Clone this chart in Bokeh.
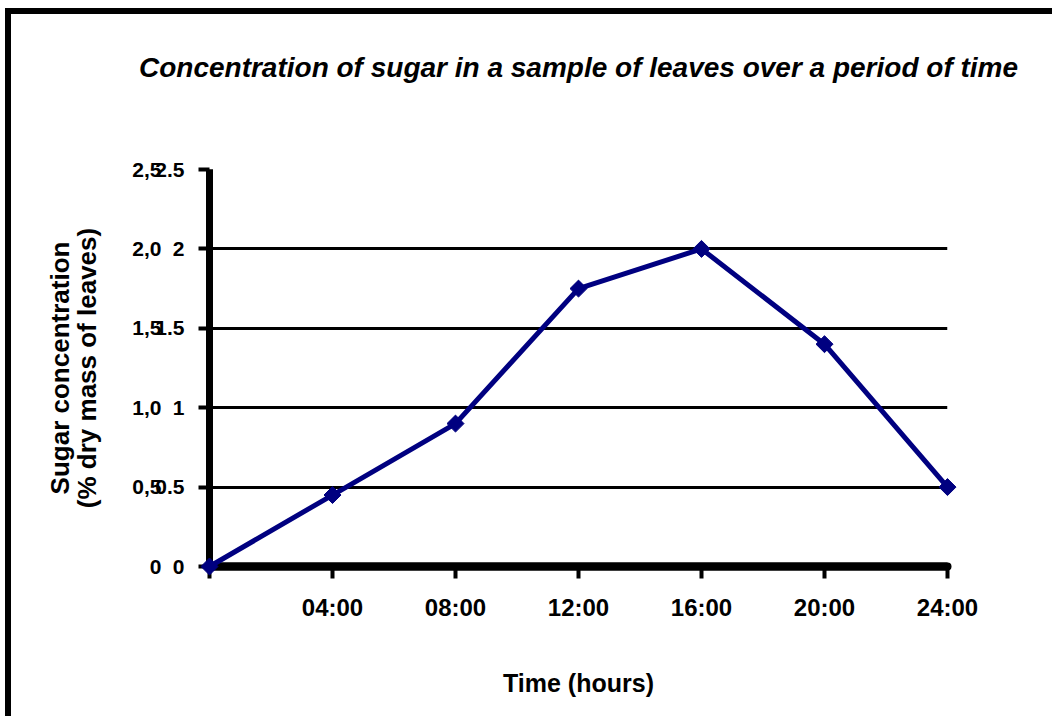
import numpy as np
from bokeh.plotting import figure
from bokeh.models import Range1d, FixedTicker, ColumnDataSource, LinearAxis
from bokeh.embed import file_html
from bokeh.resources import INLINE

# ---- data ----
hours = [0, 4, 8, 12, 16, 20, 24]
sugar = [0.0, 0.45, 0.9, 1.75, 2.0, 1.4, 0.5]
x_tick_labels = ["", "04:00", "08:00", "12:00", "16:00", "20:00", "24:00"]
y_ticks = [0.0, 0.5, 1.0, 1.5, 2.0, 2.5]
y_labels_dot = ["0", "0.5", "1", "1.5", "2", "2.5"]
y_labels_comma = ["0", "0,5", "1,0", "1,5", "2,0", "2,5"]
grid_values = [0.5, 1.0, 1.5, 2.0]

title_text = "Concentration of sugar in a sample of leaves over a period of time"
x_title = "Time (hours)"
y_title = "Sugar concentration\n(% dry mass of leaves)"

FONT = "Liberation Sans"
NAVY = "#000080"

p = figure(width=1047, height=708, output_backend="svg", toolbar_location=None,
           x_range=Range1d(hours[0], hours[-1]), y_range=Range1d(y_ticks[0], y_ticks[-1]),
           min_border_left=198, min_border_right=111, min_border_top=155,
           min_border_bottom=156,
           styles={"margin-top": "8px", "margin-left": "5px",
                   "border-top": "6px solid black", "border-left": "6px solid black"})
p.outline_line_color = None
p.background_fill_color = "white"
p.border_fill_color = "white"

xa = p.below[0]
ya = p.left[0]

# title
p.title.text = title_text
p.title.align = "center"
p.title.standoff = 10
p.title.text_font = FONT
p.title.text_font_size = "28px"
p.title.text_font_style = "bold italic"
p.title.text_color = "black"

# grid
p.xgrid.visible = False
p.ygrid.ticker = FixedTicker(ticks=grid_values)
p.ygrid.grid_line_color = "black"
p.ygrid.grid_line_width = 3

# x axis
xa.ticker = FixedTicker(ticks=hours)
xa.major_label_overrides = {h: lab for h, lab in zip(hours, x_tick_labels)}
xa.axis_line_width = 8
xa.axis_line_color = "black"
xa.major_tick_line_width = 4
xa.major_tick_line_color = "black"
xa.major_tick_in = 0
xa.major_tick_out = 12
xa.minor_tick_line_color = None
xa.major_label_standoff = 15
xa.major_label_text_font = FONT
xa.major_label_text_font_size = "24px"
xa.major_label_text_font_style = "bold"
xa.major_label_text_color = "black"
xa.axis_label = x_title
xa.axis_label_standoff = 45
xa.axis_label_text_font = FONT
xa.axis_label_text_font_size = "25px"
xa.axis_label_text_font_style = "bold"
xa.axis_label_text_color = "black"

# y axis (dot labels), next to the frame
ya.ticker = FixedTicker(ticks=y_ticks)
ya.major_label_overrides = {t: lab for t, lab in zip(y_ticks, y_labels_dot)}
ya.axis_line_width = 7
ya.axis_line_color = "black"
ya.major_tick_line_width = 4
ya.major_tick_line_color = "black"
ya.major_tick_in = 0
ya.major_tick_out = 11
ya.minor_tick_line_color = None
ya.major_label_standoff = 14
ya.major_label_text_font = FONT
ya.major_label_text_font_size = "21px"
ya.major_label_text_font_style = "bold"
ya.major_label_text_color = "black"

# second y axis with comma-decimal labels, overlapping the first
ya2 = LinearAxis(ticker=FixedTicker(ticks=y_ticks),
                 major_label_overrides={t: lab for t, lab in zip(y_ticks, y_labels_comma)})
ya2.axis_line_color = None
ya2.major_tick_line_color = None
ya2.minor_tick_line_color = None
ya2.major_tick_in = 0
ya2.major_tick_out = 0
ya2.major_label_standoff = -9
ya2.major_label_text_font = FONT
ya2.major_label_text_font_size = "21px"
ya2.major_label_text_font_style = "bold"
ya2.major_label_text_color = "black"
ya2.axis_label = y_title
ya2.axis_label_standoff = 27
ya2.axis_label_text_font = FONT
ya2.axis_label_text_font_size = "26px"
ya2.axis_label_text_font_style = "bold"
ya2.axis_label_text_color = "black"
ya2.axis_label_text_line_height = 0.9
p.add_layout(ya2, "left")

# blank spacer axis above the frame: keeps the title high, as in the original
spacer = LinearAxis(ticker=FixedTicker(ticks=[hours[0]]),
                    major_label_overrides={hours[0]: ""},
                    axis_line_color=None, major_tick_line_color=None,
                    minor_tick_line_color=None, major_tick_in=0, major_tick_out=82,
                    major_label_standoff=0, major_label_text_font_size="1px",
                    major_label_text_alpha=0)
p.add_layout(spacer, "above")

# heavy axis lines drawn over the frame edges
p.segment(x0=[hours[0]], y0=[y_ticks[0]], x1=[hours[0]], y1=[y_ticks[-1]],
          line_color="black", line_width=7, level="overlay")
p.segment(x0=[hours[0]], y0=[y_ticks[0]], x1=[hours[-1]], y1=[y_ticks[0]],
          line_color="black", line_width=8, line_cap="round", level="overlay")

# series
src = ColumnDataSource(dict(x=hours, y=sugar))
p.line("x", "y", source=src, line_color=NAVY, line_width=5, level="overlay")
p.scatter("x", "y", source=src, marker="square", angle=np.pi / 4, size=12,
          fill_color=NAVY, line_color=NAVY, level="overlay")

with open("out.html", "w") as f:
    f.write(file_html(p, INLINE))
